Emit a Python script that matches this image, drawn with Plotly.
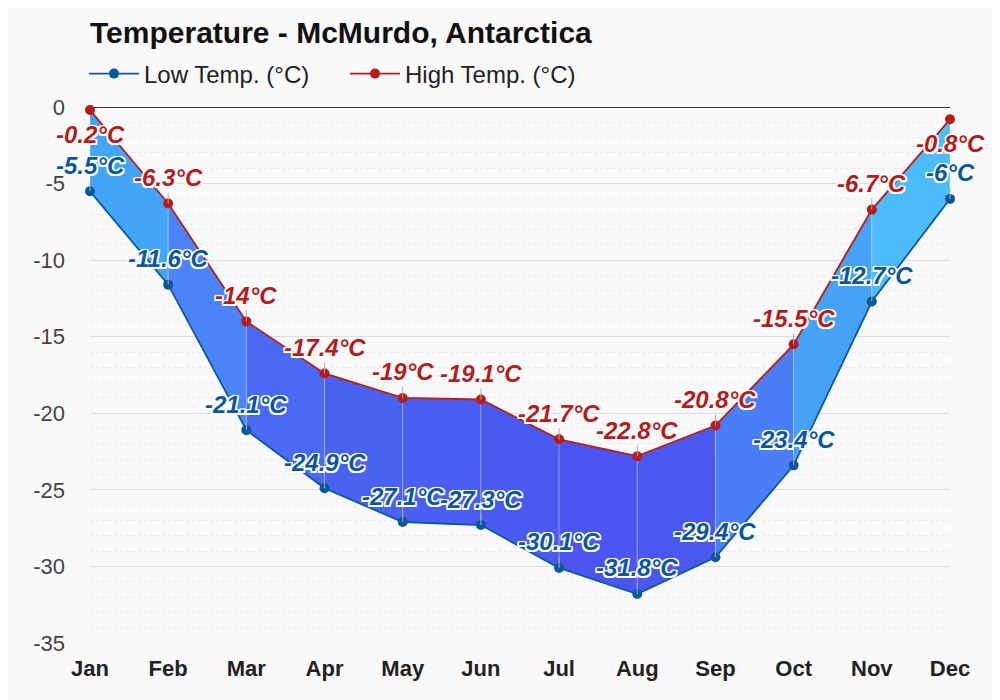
import plotly.graph_objects as go

######################################
### Data

months = ['Jan', 'Feb', 'Mar', 'Apr', 'May', 'Jun',
          'Jul', 'Aug', 'Sep', 'Oct', 'Nov', 'Dec']
high_temp = [-0.2, -6.3, -14, -17.4, -19, -19.1, -21.7, -22.8, -20.8, -15.5, -6.7, -0.8]
low_temp = [-5.5, -11.6, -21.1, -24.9, -27.1, -27.3, -30.1, -31.8, -29.4, -23.4, -12.7, -6]
y_ticks = [0, -5, -10, -15, -20, -25, -30, -35]
y_labels = ['0', '-5', '-10', '-15', '-20', '-25', '-30', '-35']

######################################
### Style

low_col = '#0b579f'
high_col = '#b71c1c'
bg = '#f9f9f9'
seg_colors = ['#42a5f5', '#4a84f7', '#4a6af4', '#4a62f2', '#4a5ef1', '#4a5af0',
              '#4a56ef', '#4a58f0', '#4a7ef6', '#46a2f6', '#4cbdf8']
outline = ('1.5px 1.5px 0 white, -1.5px -1.5px 0 white, 1.5px -1.5px 0 white, '
           '-1.5px 1.5px 0 white, 0 1.5px 0 white, 0 -1.5px 0 white, '
           '1.5px 0 0 white, -1.5px 0 0 white')
W, H = 992, 692   # page is shown with an 8px body margin

fig = go.Figure()

# coloured band between low and high, one piece per month pair
for i in range(len(months) - 1):
    fig.add_trace(go.Scatter(
        x=[months[i], months[i + 1], months[i + 1], months[i], months[i]],
        y=[high_temp[i], high_temp[i + 1], low_temp[i + 1], low_temp[i], high_temp[i]],
        mode='lines', fill='toself', fillcolor=seg_colors[i],
        line=dict(color='rgba(255,255,255,0.25)', width=1),
        hoverinfo='skip', showlegend=False))

fig.add_trace(go.Scatter(
    x=months, y=low_temp, name='Low Temp. (°C)', mode='lines+markers',
    line=dict(color=low_col, width=1.8), marker=dict(color=low_col, size=10),
    cliponaxis=False))
fig.add_trace(go.Scatter(
    x=months, y=high_temp, name='High Temp. (°C)', mode='lines+markers',
    line=dict(color=high_col, width=1.8), marker=dict(color=high_col, size=10),
    cliponaxis=False))

def fmt(v):
    return ('%g' % v) + '°C'

for vals, col in [(low_temp, low_col), (high_temp, high_col)]:
    for m, v in zip(months, vals):
        below = v > -1
        fig.add_annotation(
            x=m, y=v, text=fmt(v), showarrow=not below,
            arrowhead=0, arrowwidth=1, arrowcolor='#aaaaaa',
            ax=0, ay=-26, yshift=-24 if below else 0,
            font=dict(family='Liberation Sans, Arial', size=24, color=col,
                      weight='bold', style='italic', shadow=outline))

fig.update_layout(
    width=W, height=H,
    paper_bgcolor=bg, plot_bgcolor=bg,
    margin=dict(l=82, r=50, t=99, b=57, autoexpand=False),
    title=dict(text='<b>Temperature - McMurdo, Antarctica</b>',
               x=82 / W, xanchor='left', y=1 - 24 / H, yanchor='middle',
               font=dict(family='Liberation Sans, Arial', size=30, color='#111')),
    legend=dict(orientation='h', xref='container', yref='container',
                x=76 / W, xanchor='left', y=1 - 66 / H, yanchor='middle',
                font=dict(family='Liberation Sans, Arial', size=24, color='#222'),
                bgcolor='rgba(0,0,0,0)', itemwidth=50,
                entrywidth=196, entrywidthmode='pixels'),
    font=dict(family='Liberation Sans, Arial'),
    xaxis=dict(range=[0, 11], showgrid=False, zeroline=False, showline=False,
               tickfont=dict(size=22, color='#222', weight='bold'), ticks='',
               ticklabelstandoff=10),
    yaxis=dict(range=[-35, 0], tickvals=y_ticks, ticktext=y_labels,
               showgrid=True, gridcolor='#dcdce3',
               gridwidth=1, zeroline=True, zerolinecolor='#333', zerolinewidth=1,
               tickfont=dict(size=22, color='#444'), ticks='', ticklabelstandoff=24,
               minor=dict(dtick=1, showgrid=True, gridcolor='#e8e8ee', griddash='dot')),
)

fig.write_html('out.html')
